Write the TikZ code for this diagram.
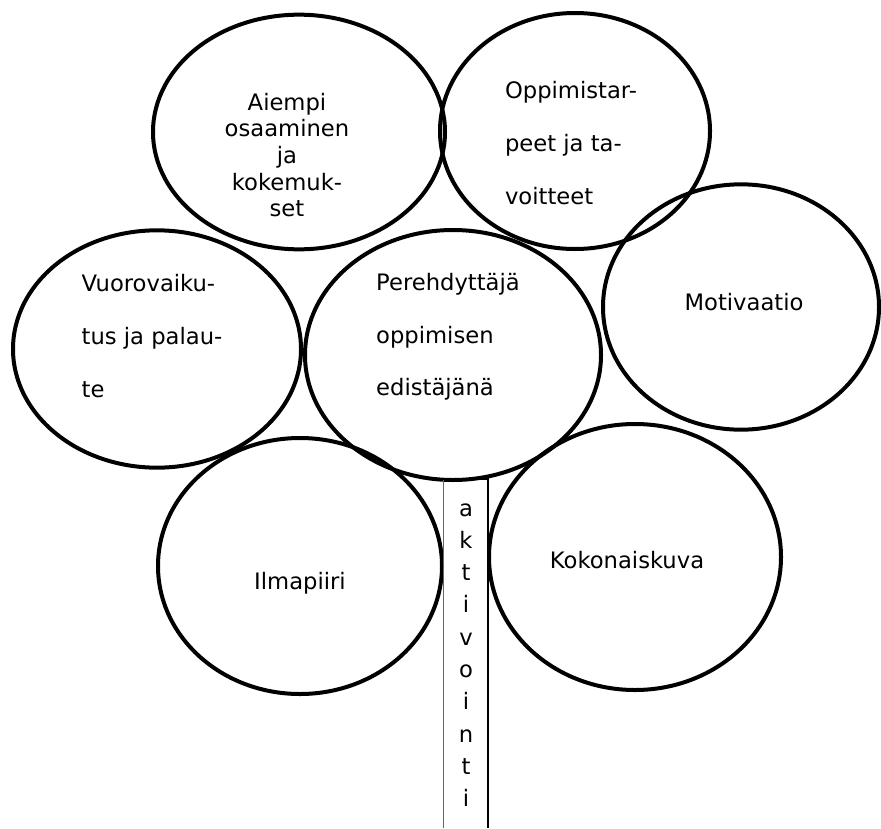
\documentclass[tikz,border=0pt]{standalone}
\usepackage{fontspec}
\setmainfont{DejaVu Sans}
\usetikzlibrary{shapes.geometric}

\begin{document}
\begin{tikzpicture}[x=0.75pt,y=-0.75pt,
  bolla/.style={ellipse, draw, line width=3pt, inner sep=0pt},
  testo/.style={font=\fontsize{17}{39.5}\selectfont, align=left}]

% Area del disegno
\useasboundingbox (0,0) rectangle (881,828);

% Bolle
\node[bolla, minimum width=219pt, minimum height=176pt] (aiempi) at (299,132) {};
\node[bolla, minimum width=202.5pt, minimum height=177pt] (tarpeet) at (575,131) {};
\node[bolla, minimum width=207pt, minimum height=184pt] (motivaatio) at (741,307) {};
\node[bolla, minimum width=216pt, minimum height=178pt] (vuoro) at (157,349) {};
\node[bolla, minimum width=222pt, minimum height=187.5pt] (pere) at (453,355) {};
\node[bolla, minimum width=213pt, minimum height=192pt] (ilma) at (300,566) {};
\node[bolla, minimum width=219pt, minimum height=199.5pt] (koko) at (635,557) {};

% Testi delle bolle
\node[testo, align=center, font=\fontsize{17}{20}\selectfont] (tAiempi) at (287,155)
  {Aiempi\\osaaminen\\ja\\kokemuk-\\set};
\node[testo] (tTarpeet) at (571,143) {Oppimistar-\\peet ja ta-\\voitteet};
\node[testo] (tMotivaatio) at (744,302) {Motivaatio};
\node[testo] (tVuoro) at (152,336) {Vuorovaiku-\\tus ja palau-\\te};
\node[testo] (tPere) at (448,337) {Perehdyttäjä\\oppimisen\\edistäjänä};
\node[testo] (tIlma) at (300,583) {Ilmapiiri};
\node[testo] (tKoko) at (627,560) {Kokonaiskuva};

% Tronco
\draw[line width=0.6pt, black!60] (443,828) -- (443,479);
\draw[line width=2.2pt] (443,479) -- (488,479) -- (488,828);
\node[font=\fontsize{17}{24.2}\selectfont, align=center] (tronco) at (466,655)
  {a\\k\\t\\i\\v\\o\\i\\n\\t\\i};

\end{tikzpicture}
\end{document}
